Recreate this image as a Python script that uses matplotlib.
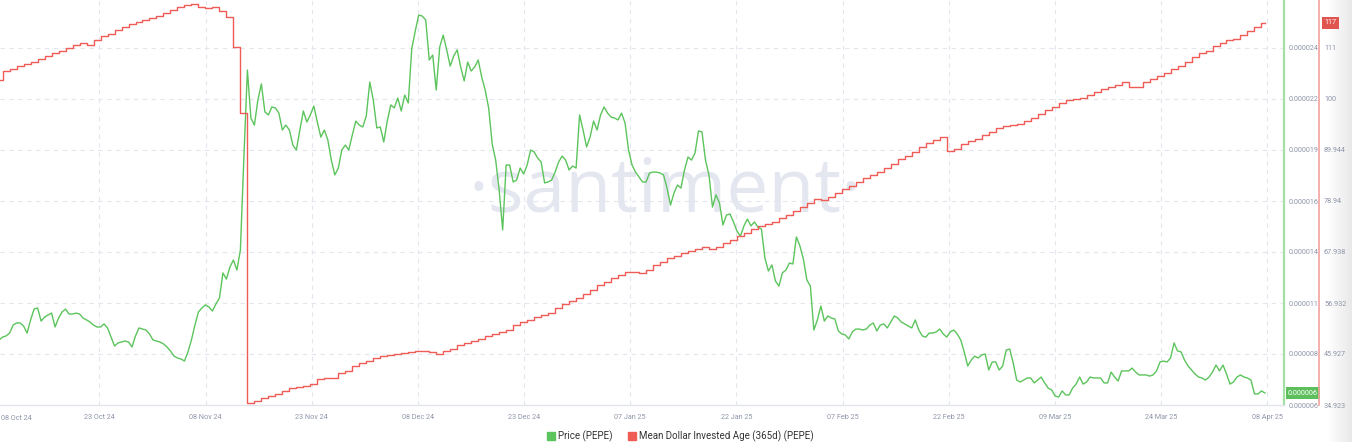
import numpy as np
import pandas as pd
import matplotlib
matplotlib.use("Agg")
import matplotlib.pyplot as plt
import matplotlib.dates as mdates
import matplotlib.transforms as mtransforms
from matplotlib.lines import Line2D
from matplotlib.colors import LinearSegmentedColormap

# ---------------- data ----------------
# PEPE price, 12-hourly, in micro-USD (1e-6 USD), starting 2024-10-09 12:00
price_micro_usd = [
    9.02, 9.17, 9.23, 9.38, 9.80, 9.91, 9.91, 9.75, 9.38, 10.07,
    10.64, 10.70, 10.01, 10.22, 10.33, 10.43, 9.70, 10.17, 10.49, 10.64,
    10.38, 10.38, 10.43, 10.38, 10.17, 10.07, 9.96, 9.80, 9.70, 9.70,
    9.86, 9.65, 9.17, 8.70, 8.86, 8.91, 8.96, 8.91, 8.65, 9.23,
    9.65, 9.59, 9.54, 9.33, 9.02, 8.96, 8.91, 8.81, 8.65, 8.44,
    8.17, 8.07, 8.02, 7.91, 8.39, 9.02, 9.80, 10.49, 10.70, 10.86,
    10.75, 10.54, 10.91, 11.22, 12.54, 12.22, 12.85, 13.22, 12.69, 13.75,
    18.63, 23.20, 20.68, 20.31, 21.63, 22.47, 21.00, 20.84, 21.26, 21.21,
    20.94, 20.05, 20.31, 20.05, 19.26, 19.00, 20.05, 21.05, 20.47, 20.84,
    21.31, 20.47, 19.68, 20.05, 19.53, 18.47, 17.69, 18.05, 19.00, 19.26,
    19.00, 19.79, 20.52, 20.31, 20.21, 20.79, 22.57, 21.63, 20.16, 20.21,
    19.42, 20.52, 21.37, 21.21, 21.73, 21.05, 21.89, 21.47, 24.31, 25.25,
    26.09, 26.04, 25.83, 23.73, 23.99, 22.15, 24.41, 25.04, 24.26, 23.41,
    23.94, 24.26, 23.36, 22.63, 23.62, 23.15, 23.36, 23.73, 22.84, 22.15,
    21.21, 19.32, 18.47, 16.90, 14.80, 18.21, 18.21, 17.32, 17.42, 18.05,
    17.74, 18.21, 19.00, 18.90, 18.58, 18.37, 17.27, 17.32, 17.42, 17.84,
    18.37, 18.68, 18.47, 17.95, 18.16, 18.05, 20.84, 20.05, 19.16, 19.68,
    20.52, 20.05, 20.84, 21.26, 20.94, 20.73, 20.68, 20.58, 20.94, 20.42,
    19.00, 18.21, 17.84, 17.58, 17.32, 17.32, 17.79, 17.84, 17.84, 17.79,
    17.69, 17.00, 16.11, 16.74, 17.16, 17.00, 17.95, 18.63, 18.47, 18.84,
    20.00, 19.95, 18.47, 17.69, 16.00, 16.64, 16.22, 15.06, 15.58, 15.64,
    15.22, 14.74, 14.48, 15.01, 15.37, 15.01, 15.22, 14.95, 14.85, 13.32,
    12.64, 12.96, 12.12, 11.85, 12.54, 12.69, 13.06, 13.01, 14.43, 13.96,
    13.27, 12.17, 11.85, 9.54, 10.07, 10.80, 10.01, 10.28, 10.17, 10.12,
    9.49, 9.33, 9.28, 9.07, 9.44, 9.59, 9.59, 9.54, 9.59, 9.80,
    9.91, 9.49, 9.80, 9.86, 9.65, 9.96, 10.28, 10.17, 9.96, 9.86,
    9.75, 9.65, 10.07, 9.54, 9.23, 9.17, 9.38, 9.38, 9.44, 9.59,
    9.33, 9.17, 9.44, 9.54, 9.33, 9.02, 8.39, 7.65, 7.96, 8.17,
    8.07, 8.23, 8.28, 7.44, 7.86, 7.86, 7.44, 7.65, 8.49, 8.54,
    7.81, 6.91, 6.81, 6.91, 7.02, 7.02, 6.76, 6.91, 7.07, 6.76,
    6.49, 6.39, 6.07, 6.02, 6.34, 6.13, 6.13, 6.49, 6.70, 7.07,
    6.70, 6.81, 7.07, 7.02, 7.02, 7.02, 6.76, 6.76, 7.33, 7.07,
    6.86, 7.39, 7.39, 7.39, 7.54, 7.33, 7.18, 7.18, 7.18, 7.12,
    7.18, 7.39, 7.86, 7.91, 7.86, 8.07, 8.86, 8.44, 8.39, 7.96,
    7.65, 7.44, 7.23, 7.07, 7.02, 6.91, 7.07, 7.33, 7.70, 7.39,
    7.70, 7.23, 6.70, 6.81, 7.07, 7.18, 7.07, 7.02, 6.91, 6.18,
    6.18, 6.34, 6.23,
]
price_start = "2024-10-09 12:00"
price_freq = "12h"

# Mean Dollar Invested Age (365d), daily, starting 2024-10-09 12:00
mdia_values = [
    105.05, 106.99, 107.42, 108.07, 108.50, 108.93, 109.58, 110.22, 110.87, 111.30,
    111.95, 112.60, 113.03, 112.60, 113.68, 114.54, 114.97, 115.83, 116.48, 117.13,
    117.56, 117.99, 118.42, 118.86, 119.51, 120.15, 120.80, 121.23, 121.45, 120.80,
    120.58, 120.80, 119.94, 118.64, 112.17, 97.93, 35.35, 35.79, 36.43, 36.86,
    37.30, 37.94, 38.59, 38.81, 39.02, 39.45, 40.53, 40.75, 40.75, 41.83,
    42.26, 43.34, 43.98, 44.42, 45.06, 45.49, 45.71, 45.93, 46.14, 46.36,
    46.57, 46.57, 46.36, 45.93, 46.57, 47.01, 47.87, 48.30, 48.73, 49.16,
    49.81, 50.24, 50.67, 51.11, 52.18, 52.83, 53.26, 53.91, 54.34, 54.77,
    55.85, 56.72, 57.36, 58.01, 58.87, 59.74, 60.82, 61.46, 62.33, 62.97,
    63.62, 63.62, 63.41, 64.05, 65.13, 65.78, 66.64, 67.07, 67.72, 68.15,
    68.58, 69.01, 68.58, 69.01, 69.88, 70.52, 71.39, 72.03, 72.90, 73.55,
    73.98, 74.41, 75.27, 75.92, 76.78, 77.65, 78.51, 79.37, 79.16, 79.80,
    80.67, 81.53, 82.18, 83.04, 83.90, 84.55, 85.20, 86.06, 86.92, 88.00,
    88.65, 89.51, 90.59, 91.46, 92.10, 92.75, 89.73, 90.16, 91.24, 91.89,
    92.32, 93.18, 93.83, 94.69, 95.12, 95.34, 95.55, 96.20, 96.85, 97.71,
    98.58, 99.22, 100.09, 100.73, 100.95, 101.17, 101.81, 102.46, 103.11, 103.54,
    103.97, 104.62, 103.54, 103.54, 104.62, 105.27, 105.91, 106.56, 107.42, 108.07,
    108.93, 110.01, 110.87, 111.30, 112.39, 113.03, 113.68, 113.90, 114.76, 115.62,
    116.48, 117.35,
]
mdia_start = "2024-10-09 12:00"
mdia_freq = "D"

price_tick_labels = ["0.000006", "0.000008", "0.000011", "0.000014",
                     "0.000016", "0.000019", "0.000022", "0.000024"]
mdia_tick_labels = ["34.923", "45.927", "56.932", "67.938",
                    "78.94", "89.944", "100", "111"]
series_names = ["Price (PEPE)", "Mean Dollar Invested Age (365d) (PEPE)"]

# ---------------- style ----------------
GREEN = "#5cc45c"
RED = "#ef5b55"
TICK_C = "#8e95a8"
GRID_C = "#e3e6ee"

plt.rcParams["font.family"] = ["Roboto", "DejaVu Sans"]

W, H = 1352, 442
fig = plt.figure(figsize=(W / 100, H / 100), dpi=100)
fig.patch.set_facecolor("white")

# screenshot shading strip at the right edge
gax = fig.add_axes([1328 / W, 0, 24 / W, 1], zorder=-5)
gax.imshow(np.linspace(0, 1, 64)[None, :], aspect="auto",
           cmap=LinearSegmentedColormap.from_list("g", ["#ffffff", "#e8e8e8"]),
           extent=[0, 1, 0, 1])
gax.axis("off")

price_times = pd.date_range(price_start, periods=len(price_micro_usd), freq=price_freq)
mdia_times = pd.date_range(mdia_start, periods=len(mdia_values), freq=mdia_freq)
price = np.array(price_micro_usd) * 1e-6
mdia = np.array(mdia_values)

ax = fig.add_axes([0, 37 / H, 1284 / W, 405 / H])
ax.patch.set_alpha(0)
ax2 = ax.twinx()
ax2.patch.set_alpha(0)

# watermark
ax.text(0.518, 0.525, "·santiment·", transform=ax.transAxes, fontsize=54,
        color="#e4e7f0", ha="center", va="center", zorder=0, family="Open Sans")

ax.plot(price_times, price, color=GREEN, lw=1.0, zorder=3)
ax2.plot(mdia_times, mdia, color=RED, lw=1.0, drawstyle="steps-mid", zorder=3)

ax.set_xlim(pd.Timestamp("2024-10-09 15:00"), pd.Timestamp("2025-04-11 05:20"))
p_lo, p_step = 5.6e-6, 2.68e-6
ax.set_ylim(p_lo, p_lo + p_step * 405 / 51)
m_lo, m_step = 34.923, 11.0043
ax2.set_ylim(m_lo, m_lo + m_step * 405 / 51)

ax.set_yticks(p_lo + p_step * np.arange(len(price_tick_labels)))
ax.set_yticklabels(price_tick_labels)
ax2.set_yticks(m_lo + m_step * np.arange(len(mdia_tick_labels)))
ax2.set_yticklabels(mdia_tick_labels)

t0 = pd.Timestamp("2024-10-23 20:00")
xticks = [t0 + pd.Timedelta(days=15.18) * k for k in range(12)]
ax.set_xticks(xticks)
ax.xaxis.set_major_formatter(mdates.DateFormatter("%d %b %y"))

ax.yaxis.tick_right()
ax.tick_params(axis="y", length=0, pad=3.6, labelsize=5.2, labelcolor=TICK_C)
ax.tick_params(axis="x", length=0, pad=6.5, labelsize=5.2, labelcolor=TICK_C)
ax2.tick_params(axis="y", length=0, pad=3.6, labelsize=5.2, labelcolor=TICK_C)

ax.grid(True, color=GRID_C, linestyle=(0, (4, 4)), lw=0.8)
ax.set_axisbelow(True)

for s in ["left", "top"]:
    ax.spines[s].set_visible(False)
    ax2.spines[s].set_visible(False)
ax2.spines["bottom"].set_visible(False)
ax.spines["bottom"].set_color("#e2e5ec")
ax.spines["bottom"].set_linewidth(1.0)
ax.spines["right"].set_color("#a3e0a3")
ax.spines["right"].set_linewidth(1.6)
ax2.spines["right"].set_position(("axes", 1319 / 1284))
ax2.spines["right"].set_color("#f2a3a0")
ax2.spines["right"].set_linewidth(1.2)

# first date label at the left edge
fig.text(1 / W, 1 - 418 / H, "08 Oct 24", ha="left", va="center",
         fontsize=5.2, color=TICK_C)

# current-value badges
tr1 = mtransforms.blended_transform_factory(ax.transAxes, ax.transData)
ax.text(1288 / 1284, price[-1], f"{price[-1]:.6f}", transform=tr1, ha="left",
        va="center", fontsize=5.2, color="white", zorder=10, clip_on=False,
        bbox=dict(boxstyle="square,pad=0.3", fc="#5cbf5c", ec="none"))
tr2 = mtransforms.blended_transform_factory(ax2.transAxes, ax2.transData)
ax2.text(1324.5 / 1284, mdia[-1], f"{mdia[-1]:.0f}", transform=tr2, ha="left",
         va="center", fontsize=5.2, color="white", zorder=10, clip_on=False,
         bbox=dict(boxstyle="square,pad=0.3", fc="#e05550", ec="none"))

handles = [Line2D([], [], marker="s", ls="none", color=GREEN, markersize=5.5),
           Line2D([], [], marker="s", ls="none", color=RED, markersize=5.5)]
fig.legend(handles, series_names, loc="center", bbox_to_anchor=(680 / W, 1 - 436 / H),
           ncol=2, frameon=False, fontsize=7, handletextpad=0.2, columnspacing=1.5,
           handlelength=1.0, labelcolor="#333333")

fig.savefig("out.png", dpi=100, facecolor="white")
